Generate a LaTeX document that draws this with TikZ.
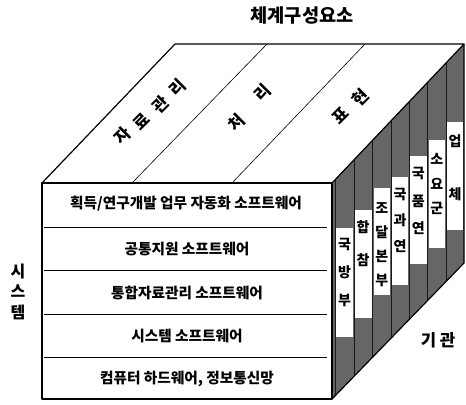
\documentclass[tikz,border=0pt]{standalone}
\usepackage{fontspec}
\setmainfont{Noto Sans CJK KR}
\begin{document}
\begin{tikzpicture}[x=0.75pt,y=-0.75pt,
  edge/.style={line width=0.9pt, line join=round},
  thinline/.style={line width=0.45pt},
  rowtxt/.style={font=\bfseries\fontsize{11}{12}\selectfont, inner sep=0pt},
  striptxt/.style={font=\bfseries\fontsize{10.5}{11}\selectfont, inner sep=0pt},
  toptxt/.style={font=\bfseries\fontsize{12.5}{13}\selectfont, inner sep=0pt, rotate=45},
  sidetxt/.style={font=\bfseries\fontsize{12}{13}\selectfont, inner sep=0pt},
  facefill/.style={fill=black!60},
  collines/.style={draw=black!90, line width=0.5pt}]
\useasboundingbox (0,0) rectangle (466,404);
% corners
\coordinate (FTL) at (42,183);
\coordinate (FTR) at (332,183);
\coordinate (FBL) at (42,399);
\coordinate (FBR) at (332,399);
\coordinate (BTL) at (175,44);
\coordinate (BTR) at (464,44);
\coordinate (BBR) at (464,263);
% right face
\fill[facefill] (FTR) -- (BTR) -- (BBR) -- (FBR) -- cycle;
% white strips
\fill[white] (336,228) rectangle (353,337);
\fill[white] (355,210) rectangle (371.5,318);
\fill[white] (373.5,188) rectangle (390,295);
\fill[white] (392,177) rectangle (408,285);
\fill[white] (410,156) rectangle (426.5,264);
\fill[white] (428.5,140) rectangle (445,248);
\fill[white] (447,122) rectangle (463,230);
\begin{scope}
  \clip (FTR) -- (BTR) -- (BBR) -- (FBR) -- cycle;
  \foreach \x in {335,354,372.5,391,409,427.5,446}
    \draw[collines] (\x,0) -- (\x,404);
\end{scope}
% outlines
\draw[edge] (FTL) rectangle (FBR);
\draw[edge] (FTL) -- (BTL) -- (BTR) -- (FTR);
\draw[edge] (BTR) -- (BBR) -- (FBR);
% top dividers
\coordinate (d1f) at (132,183); \coordinate (d1b) at (267,44);
\coordinate (d2f) at (232,183); \coordinate (d2b) at (365,44);
\draw[thinline] (d1f) -- (d1b);
\draw[thinline] (d2f) -- (d2b);
% row dividers
\foreach \y in {227,270,314,357}
  \draw[thinline] (44,\y) -- (327,\y);
% title
\node[font=\bfseries\fontsize{14}{15}\selectfont, inner sep=0pt] (title) at (302,16) {체계구성요소};
% top labels
\node[toptxt] (t1a) at (123,136) {자};
\node[toptxt] (t1b) at (141,121) {료};
\node[toptxt] (t1c) at (160,105) {관};
\node[toptxt] (t1d) at (178,88) {리};
\node[toptxt] (t2a) at (237,123) {처};
\node[toptxt] (t2b) at (263,93) {리};
\node[toptxt] (t3a) at (340,115) {표};
\node[toptxt] (t3b) at (360,98) {현};
% rows
\node[rowtxt] (r1) at (186,204) {획득/연구개발 업무 자동화 소프트웨어};
\node[rowtxt] (r2) at (187,249) {공통지원 소프트웨어};
\node[rowtxt] (r3) at (187,292.5) {통합자료관리 소프트웨어};
\node[rowtxt] (r4) at (187,336) {시스템 소프트웨어};
\node[rowtxt] (r5) at (187,378.5) {컴퓨터 하드웨어, 정보통신망};
% left label
\node[sidetxt] (s1) at (18,272) {시};
\node[sidetxt] (s2) at (18,291) {스};
\node[sidetxt] (s3) at (18,312) {템};
% right label
\node[font=\bfseries\fontsize{12.5}{13}\selectfont, inner sep=0pt] (gk) at (438,340) {기 관};
% strip texts
\node[striptxt] (a1) at (344.5,245) {국};
\node[striptxt] (a2) at (344.5,272) {방};
\node[striptxt] (a3) at (344.5,300) {부};
\node[striptxt] (b1) at (363,227) {합};
\node[striptxt] (b2) at (363,260) {참};
\node[striptxt] (c1) at (381.7,208) {조};
\node[striptxt] (c2) at (381.7,232) {달};
\node[striptxt] (c3) at (381.7,256) {본};
\node[striptxt] (c4) at (381.7,280) {부};
\node[striptxt] (e1) at (400,195) {국};
\node[striptxt] (e2) at (400,220) {과};
\node[striptxt] (e3) at (400,246) {연};
\node[striptxt] (f1) at (418.3,174) {국};
\node[striptxt] (f2) at (418.3,201) {품};
\node[striptxt] (f3) at (418.3,228) {연};
\node[striptxt] (g1) at (436.7,159) {소};
\node[striptxt] (g2) at (436.7,184) {요};
\node[striptxt] (g3) at (436.7,208) {군};
\node[striptxt] (h1) at (455,141) {업};
\node[striptxt] (h2) at (455,194) {체};
\end{tikzpicture}
\end{document}
